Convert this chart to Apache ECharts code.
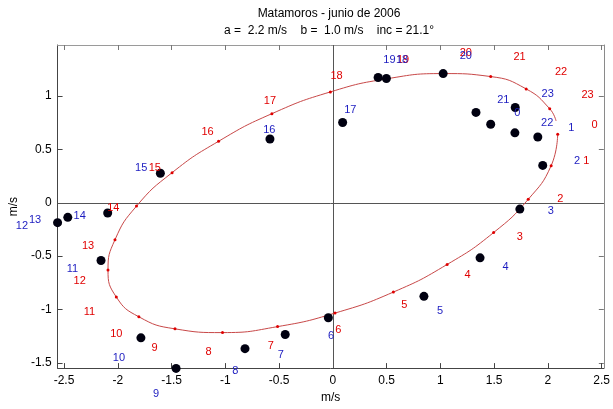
<!DOCTYPE html>
<html>
<head>
<meta charset="utf-8">
<script src="https://cdn.jsdelivr.net/npm/echarts@6/dist/echarts.min.js"></script>
<style>html,body{margin:0;padding:0;background:#fff;}#c{width:613px;height:409px;}</style>
</head>
<body>
<div id="c"></div>
<script>
// ---- data (m/s) ----
const hours = ['0','1','2','3','4','5','6','7','8','9','10','11','12','13','14','15','16','17','18','19','20','21','22','23'];
// fitted ellipse, hourly positions
const fitX = [2.091, 2.030, 1.817, 1.495, 1.063, 0.563, 0.020, -0.514, -1.026, -1.468, -1.804, -2.014, -2.091, -2.026, -1.826, -1.495, -1.063, -0.567, -0.023, 0.502, 1.026, 1.468, 1.798, 2.017];
const fitY = [0.644, 0.348, 0.033, -0.279, -0.578, -0.837, -1.034, -1.161, -1.217, -1.182, -1.069, -0.883, -0.631, -0.346, -0.031, 0.283, 0.577, 0.836, 1.040, 1.163, 1.212, 1.184, 1.068, 0.882];
// end of the drawn curve after hour 23
const fitTailX = [2.076];
const fitTailY = [0.768];
// observed hourly currents
const obsX = [1.468, 1.906, 1.952, 1.739, 1.369, 0.847, -0.042, -0.443, -0.817, -1.458, -1.785, -2.156, -2.560, -2.465, -2.094, -1.604, -0.585, 0.091, 0.421, 0.498, 1.026, 1.331, 1.693, 1.696];
const obsY = [0.737, 0.617, 0.351, -0.059, -0.516, -0.877, -1.078, -1.235, -1.368, -1.553, -1.266, -0.541, -0.186, -0.136, -0.096, 0.277, 0.598, 0.753, 1.175, 1.166, 1.212, 0.848, 0.656, 0.894];
// hour label anchors (data units)
const fitLabelX = [2.433, 2.356, 2.116, 1.739, 1.252, 0.665, 0.051, -0.576, -1.156, -1.659, -2.014, -2.264, -2.354, -2.276, -2.042, -1.656, -1.165, -0.585, 0.035, 0.653, 1.236, 1.736, 2.122, 2.369];
const fitLabelY = [0.731, 0.392, 0.036, -0.321, -0.673, -0.960, -1.192, -1.340, -1.399, -1.362, -1.229, -1.019, -0.735, -0.402, -0.044, 0.323, 0.660, 0.953, 1.194, 1.339, 1.405, 1.364, 1.228, 1.008];
const obsLabelX = [1.715, 2.218, 2.270, 2.026, 1.606, 0.998, -0.017, -0.483, -0.906, -1.644, -1.989, -2.421, -2.891, -2.770, -2.354, -1.782, -0.591, 0.162, 0.644, 0.526, 1.236, 1.585, 1.993, 1.998];
const obsLabelY = [0.839, 0.706, 0.397, -0.078, -0.599, -1.013, -1.247, -1.427, -1.578, -1.791, -1.457, -0.624, -0.217, -0.164, -0.121, 0.323, 0.684, 0.867, 1.339, 1.339, 1.376, 0.969, 0.746, 1.021];
const xTicks = [-2.5, -2, -1.5, -1, -0.5, 0, 0.5, 1, 1.5, 2, 2.5];
const yTicks = [-1.5, -1, -0.5, 0, 0.5, 1];
const titleText = 'Matamoros - junio de 2006';
const subtitleText = 'a =  2.2 m/s    b =  1.0 m/s    inc = 21.1\u00b0';
const axisUnit = 'm/s';

// ---- chart ----
const FONT = '"Liberation Sans", Arial, Helvetica, sans-serif';
const X_MIN = -2.56, X_MAX = 2.52, Y_MIN = -1.55, Y_MAX = 1.48;

const curve = fitX.map((x, i) => [x, fitY[i]]).concat(fitTailX.map((x, i) => [x, fitTailY[i]]));
const fitPts = fitX.map((x, i) => [x, fitY[i]]);
const obsPts = obsX.map((x, i) => [x, obsY[i]]);
const fitLabels = hours.map((h, i) => ({ name: h, value: [fitLabelX[i], fitLabelY[i]] }));
const obsLabels = hours.map((h, i) => ({ name: h, value: [obsLabelX[i], obsLabelY[i]] }));

function xAx(pos, show) {
  return {
    type: 'value', position: pos, min: X_MIN, max: X_MAX,
    name: show ? axisUnit : '', nameLocation: 'middle', nameGap: 23,
    nameTextStyle: { fontFamily: FONT, fontSize: 12, color: '#000' },
    axisLine: { show: true, onZero: false, lineStyle: { color: show ? '#444' : '#9a9a9a', width: 1 } },
    axisTick: { show: true, inside: true, length: 5, customValues: xTicks, lineStyle: { color: show ? '#444' : '#777' } },
    axisLabel: { show: show, customValues: xTicks, margin: 7, fontFamily: FONT, fontSize: 12, color: '#000' },
    splitLine: { show: false }
  };
}
function yAx(pos, show) {
  return {
    type: 'value', position: pos, min: Y_MIN, max: Y_MAX,
    name: show ? axisUnit : '', nameLocation: 'middle', nameGap: 33, nameRotate: 90,
    nameTextStyle: { fontFamily: FONT, fontSize: 12, color: '#000' },
    axisLine: { show: true, onZero: false, lineStyle: { color: show ? '#444' : '#8a8a8a', width: 1 } },
    axisTick: { show: true, inside: true, length: 5, customValues: yTicks, lineStyle: { color: show ? '#444' : '#777' } },
    axisLabel: { show: show, customValues: yTicks, margin: 6, fontFamily: FONT, fontSize: 12, color: '#000' },
    splitLine: { show: false }
  };
}

const chart = echarts.init(document.getElementById('c'), null, { renderer: 'canvas' });
chart.setOption({
  animation: false,
  backgroundColor: '#fff',
  grid: { left: 55, right: 9, top: 45, bottom: 37, containLabel: false },
  graphic: [
    { type: 'text', x: 329, y: 14, style: { text: titleText, textAlign: 'center', textVerticalAlign: 'middle', font: '12px ' + FONT, fill: '#000' } },
    { type: 'text', x: 329, y: 31, style: { text: subtitleText, textAlign: 'center', textVerticalAlign: 'middle', font: '12px ' + FONT, fill: '#000' } }
  ],
  xAxis: [xAx('bottom', true), xAx('top', false)],
  yAxis: [yAx('left', true), yAx('right', false)],
  series: [
    {
      type: 'line', xAxisIndex: 0, yAxisIndex: 0, data: curve, smooth: 0.5, showSymbol: false,
      lineStyle: { color: '#c84848', width: 1, opacity: 1 }, z: 2,
      markLine: {
        silent: true, symbol: 'none', label: { show: false },
        lineStyle: { color: '#555', width: 1, type: 'solid', opacity: 1 },
        data: [{ xAxis: 0 }, { yAxis: 0 }], z: 1
      }
    },
    {
      type: 'scatter', data: fitPts, symbol: 'circle', symbolSize: 3,
      itemStyle: { color: '#e00000', opacity: 1 }, z: 3
    },
    {
      type: 'scatter', data: obsPts, symbol: 'circle', symbolSize: 9, clip: false,
      itemStyle: { color: '#000010', opacity: 1 }, z: 4
    },
    {
      type: 'scatter', data: fitLabels, symbolSize: 1, clip: false,
      itemStyle: { color: 'rgba(0,0,0,0)', opacity: 1 }, z: 5,
      label: { show: true, position: 'inside', formatter: p => p.name, color: '#e00000', opacity: 1, fontFamily: FONT, fontSize: 11 }
    },
    {
      type: 'scatter', data: obsLabels, symbolSize: 1, clip: false,
      itemStyle: { color: 'rgba(0,0,0,0)', opacity: 1 }, z: 6,
      label: { show: true, position: 'inside', formatter: p => p.name, color: '#1c1cc0', opacity: 1, fontFamily: FONT, fontSize: 11 }
    }
  ]
});
</script>
</body>
</html>
